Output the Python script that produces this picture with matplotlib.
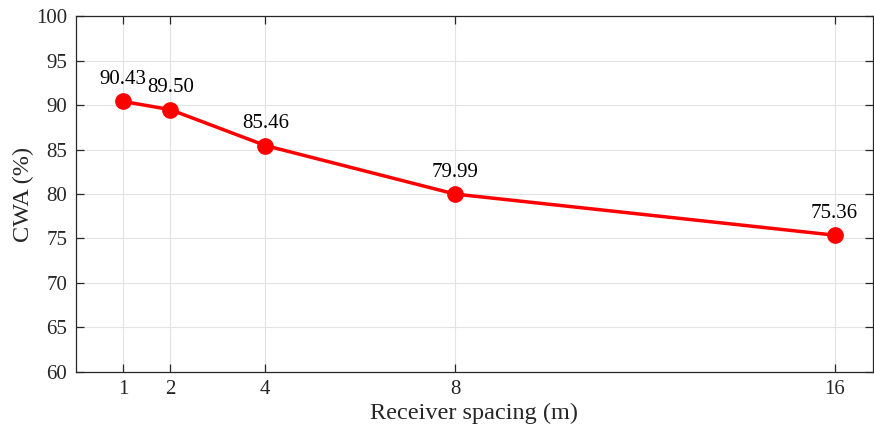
import matplotlib
matplotlib.use("Agg")
import matplotlib.pyplot as plt

# receiver spacing vs CWA
spacing = [1, 2, 4, 8, 16]
cwa = [90.43, 89.50, 85.46, 79.99, 75.36]
xtick_labels = ["1", "2", "4", "8", "16"]
yticks = [60, 65, 70, 75, 80, 85, 90, 95, 100]

plt.rcParams['font.family'] = ['Liberation Serif', 'DejaVu Serif']
plt.rcParams['font.size'] = 15

fig = plt.figure(figsize=(8.74, 4.33), dpi=100)
ax = fig.add_axes([0.0864, 0.142, 0.912, 0.820])

ax.plot(spacing, cwa, color='#ff0000', linewidth=2.5, marker='o',
        markersize=11, markerfacecolor='#ff0000', markeredgecolor='#ff0000', zorder=3)

for x, y in zip(spacing, cwa):
    ax.annotate(f"{y:.2f}", (x, y), xytext=(0, 9), textcoords='offset points',
                ha='center', va='bottom', fontsize=15, color='black')

ax.set_xlim(0, 16.8)
ax.set_ylim(60, 100)
ax.set_xticks(spacing)
ax.set_xticklabels(xtick_labels)
ax.set_yticks(yticks)

ax.grid(True, color='#e3e3e3', linewidth=0.8)
ax.set_axisbelow(True)
ax.tick_params(direction='in', length=6, width=0.9, top=True, right=True,
               colors='#262626', labelcolor='#262626', pad=6)
for s in ax.spines.values():
    s.set_color('#262626')
    s.set_linewidth(0.9)

ax.set_xlabel("Receiver spacing (m)", fontsize=17.5, color='#262626')
ax.set_ylabel("CWA (%)", fontsize=17.5, color='#262626')
ax.xaxis.set_label_coords(0.5, -0.117)
ax.yaxis.set_label_coords(-0.065, 0.5)
ax.xaxis.label.set_va('center')
ax.yaxis.label.set_va('center')

fig.savefig("out.png", dpi=100)
